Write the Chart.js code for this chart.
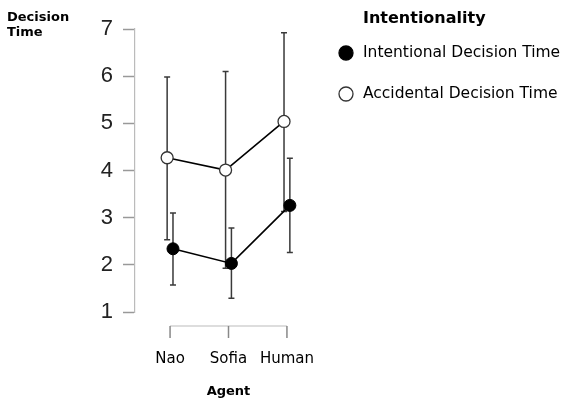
<!DOCTYPE html>
<html lang="en">
<head>
  <meta charset="UTF-8" />
  <title>Decision Time by Agent</title>
  <script src="https://cdn.jsdelivr.net/npm/chart.js"></script>
  <style>
    html, body { margin: 0; padding: 0; background: #fff; }
    .chart-box { width: 570px; height: 401px; position: relative; }
  </style>
</head>
<body>

<div class="chart-box">
  <canvas id="decisionChart"></canvas>
</div>

<script>
// data
const agents = ['Nao', 'Sofia', 'Human'];
const yTicks = [1, 2, 3, 4, 5, 6, 7];

const intentionalMean = [2.34, 2.03, 3.26];
const intentionalLow  = [1.57, 1.29, 2.26];
const intentionalHigh = [3.10, 2.78, 4.26];

const accidentalMean = [4.27, 4.01, 5.04];
const accidentalLow  = [2.53, 1.93, 3.13];
const accidentalHigh = [5.98, 6.10, 6.92];

const legendTitle = 'Intentionality';
const yTitle = ['Decision', 'Time'];
const xTitle = 'Agent';

const FONT = '"DejaVu Sans", Verdana, sans-serif';
const dodge = 0.05;

function points(means, shift) {
  return means.map((v, i) => ({ x: i + shift, y: v }));
}

// error bars, drawn under the markers
const errorBars = {
  id: 'errorBars',
  beforeDatasetsDraw(chart) {
    const ctx = chart.ctx;
    const yScale = chart.scales.y;
    ctx.save();
    ctx.strokeStyle = '#3a3a3a';
    ctx.lineWidth = 1.5;
    chart.data.datasets.forEach((ds, di) => {
      const meta = chart.getDatasetMeta(di);
      meta.data.forEach((pt, j) => {
        const yl = yScale.getPixelForValue(ds.errLow[j]);
        const yh = yScale.getPixelForValue(ds.errHigh[j]);
        ctx.beginPath();
        ctx.moveTo(pt.x, yl); ctx.lineTo(pt.x, yh);
        ctx.moveTo(pt.x - 3, yl); ctx.lineTo(pt.x + 3, yl);
        ctx.moveTo(pt.x - 3, yh); ctx.lineTo(pt.x + 3, yh);
        ctx.stroke();
      });
    });
    ctx.restore();
  }
};

// bracket style x axis, y title and the legend on the right
const decorations = {
  id: 'decorations',
  afterDraw(chart) {
    const ctx = chart.ctx;
    const xs = chart.scales.x;
    const area = chart.chartArea;
    ctx.save();

    // x axis bracket
    const yb = area.bottom + 14;
    const x0 = xs.getPixelForValue(0);
    const x2 = xs.getPixelForValue(agents.length - 1);
    ctx.strokeStyle = '#bbbbbb';
    ctx.lineWidth = 1.2;
    ctx.beginPath();
    ctx.moveTo(x0, yb); ctx.lineTo(x2, yb);
    ctx.stroke();
    ctx.strokeStyle = '#888888';
    ctx.lineWidth = 1.5;
    agents.forEach((a, i) => {
      const x = xs.getPixelForValue(i);
      ctx.beginPath();
      ctx.moveTo(x, yb); ctx.lineTo(x, yb + 12);
      ctx.stroke();
    });

    // y title, top left
    ctx.fillStyle = '#000';
    ctx.textBaseline = 'middle';
    ctx.textAlign = 'left';
    ctx.font = 'bold 13px ' + FONT;
    yTitle.forEach((t, i) => ctx.fillText(t, 7, 18 + i * 15));

    // legend
    const lx = area.right + 24;
    ctx.font = 'bold 16px ' + FONT;
    ctx.fillText(legendTitle, lx + 17, 19);
    ctx.font = '15.5px ' + FONT;
    chart.data.datasets.forEach((ds, i) => {
      const y = 53 + i * 41;
      ctx.beginPath();
      ctx.arc(lx, y, 7, 0, Math.PI * 2);
      ctx.fillStyle = ds.pointBackgroundColor;
      ctx.fill();
      ctx.lineWidth = 1.3;
      ctx.strokeStyle = ds.pointBorderColor;
      ctx.stroke();
      ctx.fillStyle = '#000';
      ctx.fillText(ds.label, lx + 17, y);
    });
    ctx.restore();
  }
};

const ctx = document.getElementById('decisionChart').getContext('2d');
new Chart(ctx, {
  type: 'line',
  data: {
    datasets: [
      {
        label: 'Intentional Decision Time',
        data: points(intentionalMean, dodge),
        errLow: intentionalLow,
        errHigh: intentionalHigh,
        borderColor: '#000',
        borderWidth: 1.6,
        pointRadius: 6,
        pointBackgroundColor: '#000',
        pointBorderColor: '#000',
        pointBorderWidth: 1,
        tension: 0
      },
      {
        label: 'Accidental Decision Time',
        data: points(accidentalMean, -dodge),
        errLow: accidentalLow,
        errHigh: accidentalHigh,
        borderColor: '#000',
        borderWidth: 1.6,
        pointRadius: 6,
        pointBackgroundColor: '#fff',
        pointBorderColor: '#333',
        pointBorderWidth: 1.3,
        tension: 0
      }
    ]
  },
  options: {
    responsive: true,
    maintainAspectRatio: false,
    animation: false,
    layout: { padding: { left: 0, top: 29, right: 248, bottom: 0 } },
    plugins: {
      legend: { display: false },
      tooltip: { enabled: false }
    },
    scales: {
      x: {
        type: 'linear',
        min: -0.6,
        max: 2.6,
        grid: { display: false, drawTicks: false },
        border: { display: false },
        afterBuildTicks: scale => { scale.ticks = agents.map((a, i) => ({ value: i })); },
        afterFit: scale => { scale.height = 89; },
        ticks: {
          padding: 38,
          color: '#000',
          font: { family: FONT, size: 15 },
          callback: value => agents[value] || ''
        },
        title: {
          display: true,
          text: xTitle,
          color: '#000',
          font: { family: FONT, size: 13, weight: 'bold' },
          padding: { top: 0, bottom: 2 }
        }
      },
      y: {
        min: 1,
        max: 7,
        afterBuildTicks: scale => { scale.ticks = yTicks.map(v => ({ value: v })); },
        afterFit: scale => { scale.width = 135; },
        grid: {
          drawOnChartArea: false,
          drawTicks: true,
          tickLength: 12,
          tickColor: '#999999',
          tickWidth: 1.5
        },
        border: { display: true, color: '#bbbbbb', width: 1.2 },
        ticks: {
          padding: 10,
          color: '#222',
          font: { family: '"Liberation Sans", Arial, sans-serif', size: 22 }
        }
      }
    }
  },
  plugins: [errorBars, decorations]
});
</script>

</body>
</html>
